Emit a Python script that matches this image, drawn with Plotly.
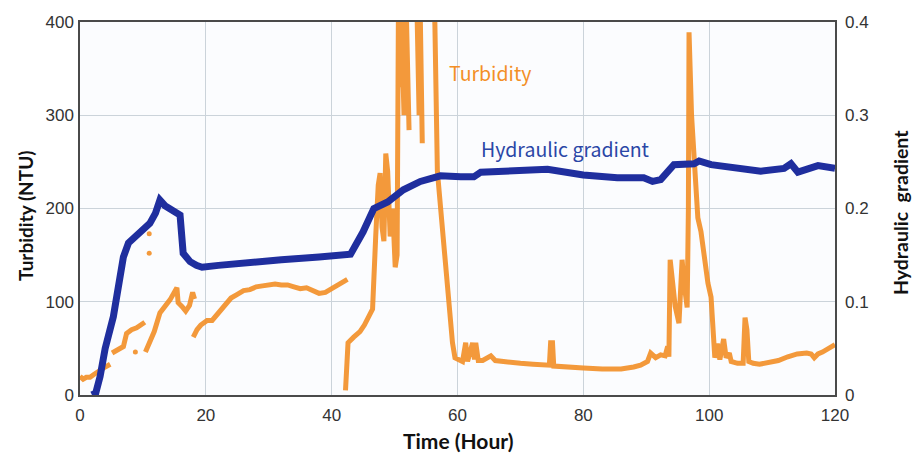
import plotly.graph_objects as go

# ---- Data ----
turb_time = [
    0, 0.5, 1, 1.6, 2.2, 3.2, 4, 4.8, None,
    5.1, 6, 6.9, 7.4, 8.2, 9, 9.6, 10.3, None,
    10.4, 11, 11.8, 12.7, 13.5, 14.3, 15.4, 15.6, 16.2, 16.8, 17.4, 17.9, 18.2, None,
    18.0, 18.6, 19.2, 20.2, 21, 22, 23, 24, 25, 26, 27, 28, 29, 30, 31, 32, 33, 34, 35, 36, 37, 38,
    39, 40, 41, 42, 42.5, None,
    42.2, 42.4, 42.6, 43.5, 44.5, 45.2, 46, 46.5, 47, 47.4, 47.7, 48, 48.3, 48.6, 48.9, 49.3, 49.7,
    50.1, 50.4, 50.6, 50.8, 51.1, 51.5, 51.9, 52.3, None,
    53.6, 53.9, 54.1, 54.4, None,
    56.0, 56.4, 56.8, 57.3, 57.8, 58.2, 58.6, 59.2, 59.6, 60.2, 60.8, 61.3, 61.6, 62.4, 62.7, 62.9,
    63.3, 64, 65.3, 66, 68, 70, 72, 74, 74.6, 74.8, 75.1, 75.3, 77, 80, 83, 86, 88, 89.1, 90.2, 90.7,
    91.5, 92.3, 93, 93.4, 93.6, 93.8, 94.2, 94.6, 95.2, 95.5, 95.7, 96, 96.5, 96.7, 96.8, 97.2, 97.6,
    98.2, 98.7, 99.2, 99.8, 100.3, 100.6, 100.9, 101.3, 101.7, 102.3, 102.7, 103.2, 103.5, 104.5,
    105.4, 105.7, 106, 106.3, 107, 108, 109, 110, 111, 112.5, 114, 115.5, 116.2, 116.7, 117.3, 118,
    119, 120,
]
turb_ntu = [
    20, 17, 19, 19, 22, 27, 30, 33, None,
    45, 48, 52, 66, 70, 72, 75, 78, None,
    46, 55, 68, 88, 95, 102, 115, 99, 95, 90, 96, 110, 103, None,
    62, 70, 75, 80, 80, 88, 96, 104, 108, 112, 113, 116, 117, 118, 119, 118, 118, 116, 114, 115, 112, 109,
    110, 114, 118, 121, 124, None,
    5, 30, 56, 62, 68, 75, 85, 92, 170, 225, 238, 180, 165, 259, 240, 170, 200,
    137, 150, 400, 330, 400, 300, 400, 284, None,
    400, 300, 400, 270, None,
    400, 400, 240, 200, 163, 125, 91, 56, 40, 38, 36, 56, 36, 56, 38, 56,
    37, 37, 42, 37, 35, 34, 33, 32, 32, 56, 56, 31, 30, 29, 28, 28, 30, 32, 36, 45,
    40, 43, 42, 52, 41, 145, 120, 95, 77, 110, 145, 120, 94, 200, 389, 300, 249,
    190, 175, 150, 120, 105, 59, 40, 55, 38, 60, 40, 45, 36, 34,
    34, 83, 70, 36, 34, 33, 34, 35, 37, 41, 44, 45, 44, 40, 44, 46,
    50, 54,
]
turb_out_time = [8.8, 11.0, 11.0]
turb_out_ntu = [46, 173, 152]

grad_time = [
    1.9, 2.5, 3.2, 4, 5.3, 6.2, 6.9, 7.7, 9.5, 11.1, 12, 12.7, 13.5, 14.5, 15.9, 16.4, 17.5, 18.5,
    19.4, 22, 26.5, 32, 38, 41, 43, 45, 46.7, 48.9, 51.4, 54.1, 57.3, 60.5, 62.6, 63.7, 68.4, 74.3,
    80, 85.4, 89.6, 91, 92.3, 94.4, 97.6, 98.4, 100.3, 105.6, 108.2, 111.9, 113, 114.1, 117.3, 120,
]
grad_val = [
    0, 0.002, 0.02, 0.05, 0.084, 0.12, 0.148, 0.163, 0.175, 0.184, 0.195, 0.209, 0.203, 0.198, 0.193,
    0.152, 0.143, 0.139, 0.137, 0.139, 0.141, 0.145, 0.148, 0.149, 0.151, 0.175, 0.200, 0.207, 0.22,
    0.229, 0.235, 0.234, 0.234, 0.239, 0.241, 0.242, 0.236, 0.233, 0.233, 0.229, 0.231, 0.247, 0.248,
    0.251, 0.247, 0.243, 0.240, 0.243, 0.248, 0.239, 0.246, 0.243,
]

x_ticks = [0, 20, 40, 60, 80, 100, 120]
y_left_ticks = [0, 100, 200, 300, 400]
y_right_ticks = [0, 0.1, 0.2, 0.3, 0.4]
y_right_labels = ["0", "0.1", "0.2", "0.3", "0.4"]

ORANGE = "#f38f26"
BLUE = "#1f2e9e"
GRID = "#cbd3da"
FRAME = "#4a4a4a"
TICKFONT = dict(family="Liberation Sans, Arial, sans-serif", size=17, color="#333333")

# plot-area geometry in pixels (used only to place text labels)
L, R, T, B = 80, 835, 22, 395
PW, PH = R - L, B - T


def px(xp):
    return (xp - L) / PW


def py(yp):
    return (B - yp) / PH


fig = go.Figure()
fig.add_trace(go.Scatter(
    x=turb_time, y=turb_ntu, mode="lines", connectgaps=False,
    line=dict(color=ORANGE, width=5), opacity=0.9, showlegend=False,
))
fig.add_trace(go.Scatter(
    x=turb_out_time, y=turb_out_ntu, mode="markers",
    marker=dict(color=ORANGE, size=5), opacity=0.9, showlegend=False,
))
fig.add_trace(go.Scatter(
    x=grad_time, y=grad_val, mode="lines", yaxis="y2",
    line=dict(color=BLUE, width=7), showlegend=False,
))

fig.update_layout(
    width=914, height=460,
    margin=dict(l=L, r=914 - R, t=T, b=460 - B),
    paper_bgcolor="white",
    plot_bgcolor="#fbfcfe",
    xaxis=dict(
        range=[0, 120], tickvals=x_ticks, ticktext=[str(v) for v in x_ticks],
        showgrid=True, gridcolor=GRID, gridwidth=1, zeroline=False,
        showline=True, linecolor=FRAME, linewidth=1.5, mirror=True,
        ticks="", tickfont=TICKFONT, ticklabelstandoff=4,
    ),
    yaxis=dict(
        range=[0, 400], tickvals=y_left_ticks,
        showgrid=True, gridcolor=GRID, gridwidth=1, zeroline=False,
        showline=True, linecolor=FRAME, linewidth=1.5, mirror=True,
        ticks="", tickfont=TICKFONT, ticklabelstandoff=1,
    ),
    yaxis2=dict(
        range=[0, 0.4], tickvals=y_right_ticks, ticktext=y_right_labels,
        overlaying="y", side="right", showgrid=False, zeroline=False,
        showline=False, ticks="", tickfont=TICKFONT, ticklabelstandoff=9,
    ),
    annotations=[
        dict(text="Turbidity", x=px(490), y=py(72), xref="paper", yref="paper",
             xanchor="center", yanchor="middle", showarrow=False,
             font=dict(family="Noto Sans CJK JP", size=19.5, color=ORANGE)),
        dict(text="Hydraulic gradient", x=px(565), y=py(148), xref="paper", yref="paper",
             xanchor="center", yanchor="middle", showarrow=False,
             font=dict(family="Noto Sans CJK JP", size=19.5, color="#2a46a6")),
        dict(text="<b>Turbidity (NTU)</b>", textangle=-90, showarrow=False,
             x=px(25), y=py(216), xref="paper", yref="paper",
             xanchor="center", yanchor="middle",
             font=dict(family="Lato, sans-serif", size=19, color="#111111")),
        dict(text="<b>Hydraulic  gradient</b>", textangle=-90, showarrow=False,
             x=px(900), y=py(213), xref="paper", yref="paper",
             xanchor="center", yanchor="middle",
             font=dict(family="Lato, sans-serif", size=19.5, color="#111111")),
        dict(text="<b>Time (Hour)</b>", showarrow=False,
             x=px(458), y=py(440), xref="paper", yref="paper",
             xanchor="center", yanchor="middle",
             font=dict(family="Lato, sans-serif", size=21, color="#111111")),
    ],
)

fig.write_html("out.html")
